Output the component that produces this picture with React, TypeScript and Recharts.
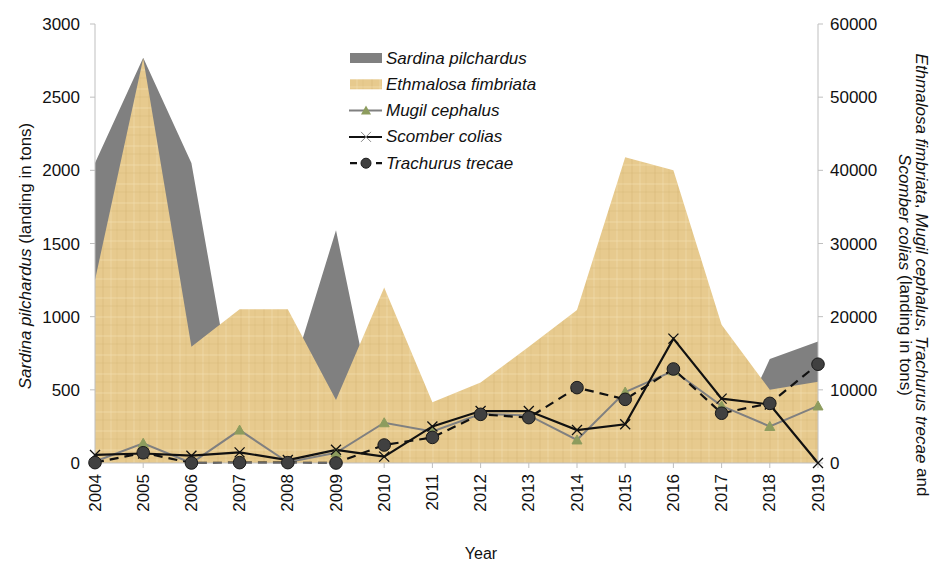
import { ComposedChart, Area, Line, XAxis, YAxis, Legend } from 'recharts'

// Desembarques anuales 2004-2019 (toneladas)
const years = ['2004', '2005', '2006', '2007', '2008', '2009', '2010', '2011', '2012', '2013', '2014', '2015', '2016', '2017', '2018', '2019']
const sardina = [2050, 2770, 2050, 190, 520, 1590, 0, 120, 180, 240, 300, 420, 380, 0, 710, 830]
const ethmalosa = [25000, 55300, 15900, 21000, 21000, 8600, 24000, 8300, 11000, 15900, 20900, 41800, 40000, 18900, 10000, 11100]
const mugil = [200, 2700, 0, 4500, 100, 1400, 5500, 4300, 6700, 6500, 3150, 9700, 12600, 7800, 5000, 7800]
const scomber = [1100, 1300, 1000, 1450, 400, 1800, 870, 5000, 7100, 7100, 4500, 5300, 17000, 8800, 8000, 0]
const trachurus = [50, 1400, 0, 50, 50, 0, 2460, 3500, 6650, 6200, 10300, 8700, 12850, 6800, 8150, 13500]

const leftTicks = [0, 500, 1000, 1500, 2000, 2500, 3000]
const rightTicks = [0, 10000, 20000, 30000, 40000, 50000, 60000]

const data = years.map((year, i) => ({
  year,
  sardina: sardina[i],
  ethmalosa: ethmalosa[i],
  mugil: mugil[i],
  scomber: scomber[i],
  trachurus: trachurus[i],
}))

const AXIS = '#bfbfbf'
const TAN = '#e7ca8e'

// textura tipo papiro para Ethmalosa
function PapyrusDefs() {
  return (
    <defs>
      <pattern id="papyrus" width="23" height="19" patternUnits="userSpaceOnUse">
        <rect width="23" height="19" fill={TAN} />
        <line x1="3" y1="0" x2="3" y2="19" stroke="#d4b373" strokeOpacity={0.5} strokeWidth={1} />
        <line x1="11" y1="0" x2="11" y2="19" stroke="#f2deb1" strokeOpacity={0.6} strokeWidth={1} />
        <line x1="17" y1="0" x2="17" y2="19" stroke="#d6b677" strokeOpacity={0.4} strokeWidth={1} />
        <line x1="0" y1="5" x2="23" y2="5" stroke="#f3e1b6" strokeOpacity={0.55} strokeWidth={1} />
        <line x1="0" y1="13" x2="23" y2="13" stroke="#d2b172" strokeOpacity={0.4} strokeWidth={1} />
      </pattern>
    </defs>
  )
}

function YearTick({ x, y, payload }: any) {
  return (
    <text transform={`translate(${x},${y}) rotate(-90)`} textAnchor="end" dominantBaseline="central" fontSize={17} fill="#111">
      {payload.value}
    </text>
  )
}

function LeftTitle() {
  return (
    <text x={17} y={248} transform="rotate(-90, 17, 248)" textAnchor="middle" dominantBaseline="central" fontSize={17} fill="#111">
      <tspan fontStyle="italic">Sardina pilchardus</tspan>
      {' (landing in tons)'}
    </text>
  )
}

function RightTitle() {
  return (
    <g>
      <text x={914} y={267} transform="rotate(90, 914, 267)" textAnchor="middle" dominantBaseline="central" fontSize={17} fill="#111">
        <tspan fontStyle="italic">Ethmalosa fimbriata</tspan>
        {', '}
        <tspan fontStyle="italic">Mugil cephalus</tspan>
        {', '}
        <tspan fontStyle="italic">Trachurus trecae</tspan>
        {' and'}
      </text>
      <text x={897} y={267} transform="rotate(90, 897, 267)" textAnchor="middle" dominantBaseline="central" fontSize={17} fill="#111">
        <tspan fontStyle="italic">Scomber colias</tspan>
        {' (landing in tons)'}
      </text>
    </g>
  )
}

function YearTitle() {
  return (
    <text x={473} y={545} textAnchor="middle" dominantBaseline="central" fontSize={16} fill="#111">
      Year
    </text>
  )
}

function TriangleDot({ cx, cy }: any) {
  if (cx == null || cy == null) return null
  return <path d={`M${cx - 5},${cy + 4} L${cx + 5},${cy + 4} L${cx},${cy - 5} Z`} fill="#8d9c5e" stroke="#8d9c5e" />
}

function CrossDot({ cx, cy }: any) {
  if (cx == null || cy == null) return null
  return <path d={`M${cx - 5},${cy - 5} L${cx + 5},${cy + 5} M${cx - 5},${cy + 5} L${cx + 5},${cy - 5}`} stroke="#111" strokeWidth={1.3} fill="none" />
}

function CircleDot({ cx, cy }: any) {
  if (cx == null || cy == null) return null
  return <circle cx={cx} cy={cy} r={6.3} fill="#404040" stroke="#1a1a1a" strokeWidth={1} />
}

// Leyenda propia con muestras como en el original
function SpeciesLegend() {
  const rowY = (i: number) => 14 + i * 26.3
  const textProps = { x: 40, fontSize: 17, fontStyle: 'italic' as const, fill: '#111', dominantBaseline: 'central' as const }
  return (
    <svg width={240} height={140} style={{ display: 'block', fontFamily: '"Liberation Sans", Arial, sans-serif' }}>
      <rect x={4} y={rowY(0) - 5} width={32} height={10} fill="#808080" />
      <text {...textProps} y={rowY(0)}>Sardina pilchardus</text>

      <rect x={4} y={rowY(1) - 5} width={32} height={10} fill="url(#papyrus)" />
      <text {...textProps} y={rowY(1)}>Ethmalosa fimbriata</text>

      <line x1={3} y1={rowY(2)} x2={36} y2={rowY(2)} stroke="#808080" strokeWidth={2} />
      <path d={`M15,${rowY(2) + 4} L25,${rowY(2) + 4} L20,${rowY(2) - 5} Z`} fill="#8d9c5e" />
      <text {...textProps} y={rowY(2)}>Mugil cephalus</text>

      <line x1={3} y1={rowY(3)} x2={36} y2={rowY(3)} stroke="#111" strokeWidth={2} />
      <path d={`M15,${rowY(3) - 5} L25,${rowY(3) + 5} M15,${rowY(3) + 5} L25,${rowY(3) - 5}`} stroke="#888" strokeWidth={1} />
      <text {...textProps} y={rowY(3)}>Scomber colias</text>

      <line x1={4} y1={rowY(4)} x2={36} y2={rowY(4)} stroke="#111" strokeWidth={2.2} strokeDasharray="7 6" />
      <circle cx={20} cy={rowY(4)} r={5} fill="#404040" stroke="#1a1a1a" />
      <text {...textProps} y={rowY(4)}>Trachurus trecae</text>
    </svg>
  )
}

export default function App() {
  return (
    <div style={{ fontFamily: '"Liberation Sans", Arial, sans-serif' }}>
      <ComposedChart
        width={932}
        height={554}
        data={data}
        margin={{ top: 16, right: 42, bottom: 0, left: 15 }}
        style={{ fontFamily: '"Liberation Sans", Arial, sans-serif' }}
      >
        <PapyrusDefs />

        <XAxis
          dataKey="year"
          scale="point"
          padding={{ left: 0, right: 0 }}
          interval={0}
          height={99}
          tick={<YearTick />}
          tickSize={5}
          tickMargin={6}
          axisLine={{ stroke: AXIS }}
          tickLine={{ stroke: AXIS }}
          label={<YearTitle />}
        />

        {/* Eje izquierdo: Sardina pilchardus */}
        <YAxis
          yAxisId="left"
          domain={[0, 3000]}
          ticks={leftTicks}
          width={72}
          tickSize={5}
          tickMargin={10}
          tick={{ fontSize: 17, fill: '#111' }}
          axisLine={{ stroke: AXIS }}
          tickLine={{ stroke: AXIS }}
          label={<LeftTitle />}
        />

        {/* Eje derecho: resto de especies */}
        <YAxis
          yAxisId="right"
          orientation="right"
          domain={[0, 60000]}
          ticks={rightTicks}
          width={80}
          tickSize={5}
          tickMargin={7}
          tick={{ fontSize: 17, fill: '#111' }}
          axisLine={{ stroke: AXIS }}
          tickLine={{ stroke: AXIS }}
          label={<RightTitle />}
        />

        <Area yAxisId="left" type="linear" dataKey="sardina" name="Sardina pilchardus" fill="#808080" fillOpacity={1} stroke="none" isAnimationActive={false} />
        <Area yAxisId="right" type="linear" dataKey="ethmalosa" name="Ethmalosa fimbriata" fill="url(#papyrus)" fillOpacity={1} stroke="none" isAnimationActive={false} />

        <Line yAxisId="right" type="linear" dataKey="mugil" name="Mugil cephalus" stroke="#808080" strokeWidth={2} dot={<TriangleDot />} activeDot={false} isAnimationActive={false} />
        <Line yAxisId="right" type="linear" dataKey="scomber" name="Scomber colias" stroke="#111" strokeWidth={2.2} dot={<CrossDot />} activeDot={false} isAnimationActive={false} />
        <Line yAxisId="right" type="linear" dataKey="trachurus" name="Trachurus trecae" stroke="#111" strokeWidth={2.2} strokeDasharray="9 6" dot={<CircleDot />} activeDot={false} isAnimationActive={false} />

        <Legend
          layout="vertical"
          align="center"
          verticalAlign="middle"
          content={<SpeciesLegend />}
          wrapperStyle={{ top: 36, left: 338, width: 240, height: 140 }}
        />
      </ComposedChart>
    </div>
  )
}
